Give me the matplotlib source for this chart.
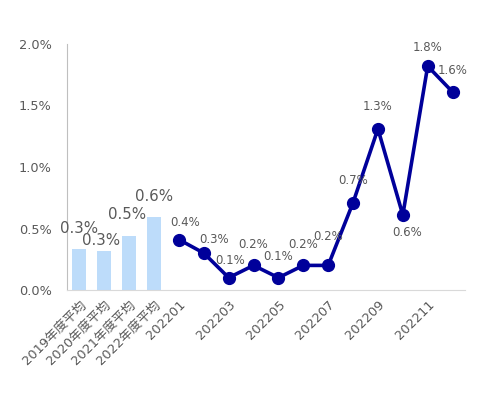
import matplotlib
matplotlib.use('Agg')
import matplotlib.pyplot as plt

plt.rcParams['font.family'] = ['DejaVu Sans', 'Noto Sans CJK JP']

# data (values in %)
bar_cats = ['2019年度平均', '2020年度平均', '2021年度平均', '2022年度平均']
bar_vals = [0.33, 0.32, 0.44, 0.59]
bar_labels = ['0.3%', '0.3%', '0.5%', '0.6%']

months = ['202201', '202202', '202203', '202204', '202205', '202206',
          '202207', '202208', '202209', '202210', '202211', '202212']
month_vals = [0.41, 0.30, 0.10, 0.20, 0.10, 0.20, 0.20, 0.71, 1.31, 0.61, 1.82, 1.61]
month_labels = ['0.4%', '0.3%', '0.1%', '0.2%', '0.1%', '0.2%',
                '0.2%', '0.7%', '1.3%', '0.6%', '1.8%', '1.6%']
shown_months = ['202201', '202203', '202205', '202207', '202209', '202211']

# label offsets in pixels (style only)
bar_off = [(0, 21), (-3, 10), (-2, 21), (0, 21)]
line_off = [(6, 17), (10, 14), (1, 17), (0, 21), (0, 21), (0, 21),
            (0, 29), (0, 22), (0, 22), (4, -18), (0, 19), (0, 21)]

grey = '#595959'
fig = plt.figure(figsize=(4.8, 3.95), dpi=100)
ax = fig.add_axes([67/480, 1 - 290/395, 398/480, 246/395])

nb = len(bar_cats)
xb = list(range(nb))
xm = list(range(nb, nb + len(months)))

ax.bar(xb, bar_vals, width=0.56, color='#BDDCFA')
for x, v, lab, off in zip(xb, bar_vals, bar_labels, bar_off):
    ax.annotate(lab, (x, v), xytext=off, textcoords='offset pixels',
                ha='center', va='center', fontsize=10.8, color=grey)

ax.plot(xm, month_vals, color='#00009A', lw=2.6, marker='o', ms=8.5)
for x, v, lab, off in zip(xm, month_vals, month_labels, line_off):
    ax.annotate(lab, (x, v), xytext=off, textcoords='offset pixels',
                ha='center', va='center', fontsize=8.5, color=grey)

ax.set_xlim(-0.5, nb + len(months) - 0.5)
ax.set_ylim(0, 2.0)
ax.set_yticks([0, 0.5, 1.0, 1.5, 2.0])
ax.set_yticklabels(['0.0%', '0.5%', '1.0%', '1.5%', '2.0%'])

ticklabels = bar_cats + [m if m in shown_months else '' for m in months]
ax.set_xticks(xb + xm)
ax.set_xticklabels(ticklabels, rotation=45, ha='right', rotation_mode='anchor')
ax.tick_params(length=0, colors=grey, labelsize=9.3)
ax.tick_params(axis='x', pad=6)
ax.tick_params(axis='y', pad=11)

for s in ['top', 'right']:
    ax.spines[s].set_visible(False)
ax.spines['left'].set_color('#BFBFBF')
ax.spines['bottom'].set_color('#D9D9D9')

plt.savefig('out.png', dpi=100)
plt.close('all')
